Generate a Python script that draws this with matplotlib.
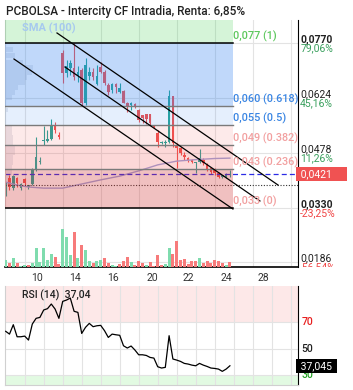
import numpy as np
import matplotlib
matplotlib.use("Agg")
import matplotlib.pyplot as plt

plt.rcParams['font.family'] = ['Roboto', 'DejaVu Sans']

# ---- data ----
opens = [0.0386, 0.0410, 0.0383, 0.0410, 0.0383, 0.0407, 0.0386, 0.0394, 0.0431, 0.0453,
         0.0509, 0.0509, 0.0514, 0.0549, 0.0525, 0.0743, 0.0690, 0.0703, 0.0703, 0.0685,
         0.0698, 0.0610, 0.0682, 0.0693, 0.0661, 0.0706, 0.0693, 0.0658, 0.0645, 0.0661,
         0.0639, 0.0642, 0.0610, 0.0605, 0.0607, 0.0591, 0.0578, 0.0581, 0.0581, 0.0549,
         0.0530, 0.0503, 0.0503, 0.0506, 0.0629, 0.0498, 0.0490, 0.0471, 0.0463, 0.0458,
         0.0450, 0.0453, 0.0458, 0.0445, 0.0437, 0.0431, 0.0423, 0.0413, 0.0413, 0.0418]
highs = [0.0399, 0.0418, 0.0418, 0.0413, 0.0397, 0.0410, 0.0391, 0.0437, 0.0519, 0.0466,
         0.0549, 0.0538, 0.0567, 0.0559, 0.0533, 0.0751, 0.0725, 0.0725, 0.0770, 0.0709,
         0.0703, 0.0730, 0.0706, 0.0703, 0.0711, 0.0719, 0.0698, 0.0663, 0.0663, 0.0663,
         0.0663, 0.0645, 0.0613, 0.0613, 0.0610, 0.0594, 0.0578, 0.0581, 0.0581, 0.0551,
         0.0538, 0.0509, 0.0511, 0.0645, 0.0629, 0.0503, 0.0493, 0.0479, 0.0466, 0.0461,
         0.0453, 0.0487, 0.0463, 0.0450, 0.0439, 0.0437, 0.0426, 0.0418, 0.0423, 0.0431]
lows = [0.0362, 0.0378, 0.0378, 0.0386, 0.0378, 0.0391, 0.0381, 0.0391, 0.0429, 0.0447,
        0.0498, 0.0506, 0.0511, 0.0530, 0.0514, 0.0663, 0.0679, 0.0685, 0.0671, 0.0666,
        0.0605, 0.0605, 0.0671, 0.0671, 0.0658, 0.0690, 0.0658, 0.0631, 0.0637, 0.0637,
        0.0637, 0.0610, 0.0586, 0.0591, 0.0597, 0.0559, 0.0557, 0.0554, 0.0551, 0.0543,
        0.0493, 0.0501, 0.0493, 0.0503, 0.0493, 0.0437, 0.0471, 0.0458, 0.0453, 0.0450,
        0.0423, 0.0450, 0.0445, 0.0429, 0.0421, 0.0418, 0.0410, 0.0410, 0.0410, 0.0413]
closes = [0.0397, 0.0386, 0.0415, 0.0397, 0.0394, 0.0397, 0.0391, 0.0431, 0.0466, 0.0455,
          0.0511, 0.0514, 0.0549, 0.0538, 0.0519, 0.0690, 0.0709, 0.0717, 0.0679, 0.0693,
          0.0610, 0.0711, 0.0693, 0.0679, 0.0682, 0.0693, 0.0663, 0.0639, 0.0661, 0.0653,
          0.0650, 0.0610, 0.0599, 0.0610, 0.0599, 0.0565, 0.0570, 0.0567, 0.0557, 0.0546,
          0.0506, 0.0506, 0.0506, 0.0629, 0.0503, 0.0490, 0.0477, 0.0466, 0.0458, 0.0453,
          0.0453, 0.0463, 0.0450, 0.0431, 0.0426, 0.0423, 0.0413, 0.0418, 0.0421, 0.0421]

volumes = [20, 12, 27, 12, 3, 7, 7, 12, 57, 15, 57, 20, 39, 31, 8, 113, 90, 35, 105, 27,
           65, 50, 17, 13, 17, 20, 27, 13, 7, 2, 9, 17, 30, 15, 7, 17, 11, 7, 15, 2,
           35, 7, 9, 57, 39, 77, 20, 23, 9, 17, 19, 27, 13, 17, 13, 21, 17, 13, 7, 15]
vol_up = [1, 0, 1, 0, 1, 1, 0, 1, 1, 1, 1, 1, 1, 0, 0, 1, 1, 1, 0, 1,
          0, 1, 1, 0, 1, 1, 0, 0, 1, 1, 0, 0, 0, 1, 0, 0, 0, 1, 0, 0,
          0, 0, 1, 1, 0, 0, 0, 0, 0, 0, 0, 1, 0, 0, 0, 0, 0, 0, 1, 0]

rsi = [63.0, 60.9, 68.0, 58.9, 58.9, 59.4, 56.4, 68.5, 72.8, 73.5,
       79.1, 80.1, 83.6, 79.8, 72.8, 85.6, 86.6, 88.1, 78.1, 77.3,
       61.4, 66.0, 69.0, 66.5, 67.2, 67.5, 63.5, 58.4, 60.9, 60.4,
       60.0, 52.1, 50.4, 51.9, 48.9, 45.3, 45.3, 44.8, 43.3, 42.8,
       36.3, 35.3, 35.8, 59.7, 42.1, 41.3, 40.3, 38.8, 38.3, 37.5,
       37.0, 38.8, 37.5, 36.5, 35.3, 35.0, 34.5, 32.8, 34.5, 37.0]

sma_idx = [0, 3, 6, 10, 15, 20, 25, 30, 35, 40, 45, 50, 55, 59]
sma_val = [0.0399, 0.0391, 0.0386, 0.0383, 0.0383, 0.0394, 0.0405, 0.0415, 0.0429,
           0.0445, 0.0455, 0.0459, 0.0462, 0.0463]

# left volume-by-price profile
profile_price = [0.07527, 0.07367, 0.07180, 0.07047, 0.06913, 0.06780, 0.06647, 0.06513,
                 0.06380, 0.06247, 0.05913, 0.05447, 0.05313, 0.05180, 0.05047, 0.04913,
                 0.04780, 0.04647, 0.04513, 0.04380, 0.04247, 0.04113, 0.03980]
profile_len = [2.1, 2.6, 4.7, 7.4, 7.1, 5.8, 5.3, 3.4, 2.6, 1.8, 0.8, 1.8, 1.8, 2.1, 2.1,
               2.6, 2.6, 2.1, 2.1, 1.8, 1.8, 1.3, 1.3]

tick_pos = [8.2, 18.2, 28.2, 38.5, 48.0, 58.2, 67.7]
tick_labels = ["10", "14", "16", "20", "22", "24", "28"]

fib_levels = [0.077, 0.0602, 0.055, 0.0498, 0.0434, 0.033]
fib_labels = ["0,077 (1)", "0,060 (0.618)", "0,055 (0.5)", "0,049 (0.382)",
              "0,043 (0.236)", "0,033 (0)"]

price_ticks = [0.0770, 0.0624, 0.0478, 0.0330, 0.0186]
price_tick_labels = ["0,0770", "0,0624", "0,0478", "0,0330", "0,0186"]
price_pct = ["79,06%", "45,16%", "11,26%", "-23,25%", "-56,54%"]

last_price = 0.0421
ref_price = 0.0391
last_rsi = 37.045

channel_x = [[13.5, 71.66], [15.6, 66.9], [2.18, 59.8]]
channel_y = [[0.07967, 0.03913], [0.0706, 0.03487], [0.07273, 0.03273]]

# ---- layout (pixel boxes) ----
W, H = 353, 390
fig = plt.figure(figsize=(W / 100, H / 100), dpi=100)
fig.patch.set_facecolor("white")


def box(x0, y0, x1, y1):
    return [x0 / W, 1 - y1 / H, (x1 - x0) / W, (y1 - y0) / H]


xmin, xmax = -0.184, 76.92
fib_end = 59.8
up_col, dn_col = "#26a69a", "#ef5350"

ax = fig.add_axes(box(5, 20, 298, 267))
ax.set_xlim(xmin, xmax)
ax.set_ylim(0.017267, 0.083133)

# grid
ax.set_xticks(np.arange(5, 76, 10))
ax.set_xticks(tick_pos, labels=tick_labels, minor=True)
ax.set_yticks(price_ticks)
ax.tick_params(which="major", length=0, labelbottom=False, labelleft=False)
ax.tick_params(which="minor", axis="x", length=0, pad=4, labelsize=7.5, labelcolor="#333333")
ax.grid(True, which="major", color="#e3e3e3", lw=0.8, zorder=0)
ax.set_axisbelow(True)
ax.spines["top"].set_visible(False)
ax.spines["left"].set_color("#d0d0d0")
ax.spines["right"].set_color("black")
ax.spines["bottom"].set_color("black")
ax.spines["bottom"].set_linewidth(1.2)

# volume profile
ax.barh(profile_price, profile_len, height=0.00125, left=xmin, color="#8a90a8",
        alpha=0.18, zorder=1, linewidth=0)

# candles
o = np.array(opens); h = np.array(highs); l = np.array(lows); c = np.array(closes)
x = np.arange(len(o))
cols = [up_col if cc >= oo else dn_col for oo, cc in zip(o, c)]
ax.vlines(x, l, h, colors=cols, lw=0.8, zorder=2)
ax.bar(x, np.maximum(np.abs(c - o), 0.00025), bottom=np.minimum(o, c), width=0.7,
       color=cols, zorder=2, linewidth=0)

# SMA and price lines
ax.plot(sma_idx, sma_val, color="#9ea6dc", lw=1, zorder=2)
ax.axhline(last_price, color="#2b2be6", ls=(0, (4, 2.5)), lw=0.9, zorder=2)
ax.axhline(ref_price, color="#333333", ls=(0, (1, 1.5)), lw=0.8, zorder=2)

# fib zones (overlay)
zone_cols = ["#2ecc40", "#2f80f0", "#2f80f0", "#f04040", "#f04040", "#d03030"]
zone_alpha = [0.2, 0.3, 0.12, 0.11, 0.2, 0.3]
tops = [0.083133] + fib_levels[:-1]
for top, bot, zc, za in zip(tops, fib_levels, zone_cols, zone_alpha):
    ax.fill_between([xmin, fib_end], bot, top, color=zc, alpha=za, lw=0, zorder=3)
for i, lev in enumerate(fib_levels):
    edge = i in (0, len(fib_levels) - 1)
    ax.plot([xmin, fib_end], [lev, lev], color="black" if edge else "#7a7a7a",
            lw=1.1 if edge else 1.0, zorder=4)

lab_cols = ["#5ec85e", "#3b86e3", "#3b86e3", "#f2a0a0", "#f2a0a0", "#f2a0a0"]
for lev, lab, lc in zip(fib_levels, fib_labels, lab_cols):
    ax.text(fib_end + 0.05, lev + 0.0003, lab, color=lc, fontsize=7.8, fontweight="medium",
            ha="left", va="bottom", zorder=6)

# channel
for cx, cy in zip(channel_x, channel_y):
    ax.plot(cx, cy, color="black", lw=0.9, zorder=5)

ax.text(0.058, 0.967, "SMA (100)", transform=ax.transAxes, color="#a6c9ef",
        fontsize=8, fontweight="bold", va="center", ha="left", zorder=6)

# volume
axv = ax.twinx()
axv.set_ylim(0, 741)
axv.bar(x, volumes, width=0.8, color=["#7fdcae" if u else "#f77b7b" for u in vol_up],
        linewidth=0)
axv.axis("off")

# right price scale
axr = fig.add_axes(box(298, 20, 353, 267))
axr.set_ylim(ax.get_ylim())
axr.set_xlim(0, 1)
axr.axis("off")
weights = ["bold", "normal", "normal", "bold", "normal"]
for pt, pl, pp, wt in zip(price_ticks, price_tick_labels, price_pct, weights):
    axr.text(0.04, pt + 0.0002, pl, fontsize=7.5, fontweight=wt, color="#222222",
             va="baseline", ha="left", clip_on=True, clip_box=axr.bbox)
    axr.text(0.04, pt - 0.0001, pp, fontsize=7.5,
             color="#3aa05e" if not pp.startswith("-") else "#f04545",
             va="top", ha="left", clip_on=True, clip_box=axr.bbox)
ax.text(1.0, last_price, " 0,0421     ", transform=ax.get_yaxis_transform(),
        fontsize=7.5, color="white", va="center", ha="left", clip_on=False, zorder=7,
        bbox=dict(facecolor="#f05252", edgecolor="none", pad=1.6))

# RSI panel
axs = fig.add_axes(box(5, 286, 298, 385))
axs.set_xlim(xmin, xmax)
axs.set_ylim(22.5, 97.2)
axs.axhspan(70, 97.2, color="#fde8e8", lw=0, zorder=0)
axs.axhspan(22.5, 30, color="#e2fae2", lw=0, zorder=0)
axs.set_xticks(np.arange(5, 76, 5))
axs.set_yticks([30, 50, 70])
axs.tick_params(length=0, labelbottom=False, labelleft=False)
axs.grid(True, color="#e3e3e3", lw=0.8)
axs.set_axisbelow(True)
axs.spines["top"].set_visible(False)
axs.spines["left"].set_color("#d0d0d0")
axs.spines["bottom"].set_color("#d0d0d0")
axs.spines["right"].set_color("black")
axs.plot(x, rsi, color="black", lw=0.9, zorder=3)
axs.text(0.058, 0.91, "RSI (14)  37,04", transform=axs.transAxes, fontsize=7.5,
         fontweight="medium", color="#222222", va="center", ha="left")
for lv, lc in zip([70, 50, 30], ["#e82020", "#222222", "#22a022"]):
    axs.text(1.012, lv, str(lv), transform=axs.get_yaxis_transform(), fontsize=7.5,
             color=lc, va="center", ha="left", fontweight="medium")
axs.text(1.0, last_rsi, " 37,045 ", transform=axs.get_yaxis_transform(), fontsize=7.5,
         color="white", va="center", ha="left", clip_on=False, zorder=7,
         bbox=dict(facecolor="black", edgecolor="none", pad=1.4))

fig.text(6 / W, 1 - 12 / H, "PCBOLSA - Intercity CF Intradia, Renta: 6,85%",
         fontsize=8.5, fontweight="medium", color="#222222", va="center", ha="left")

fig.savefig("out.png", dpi=100)
